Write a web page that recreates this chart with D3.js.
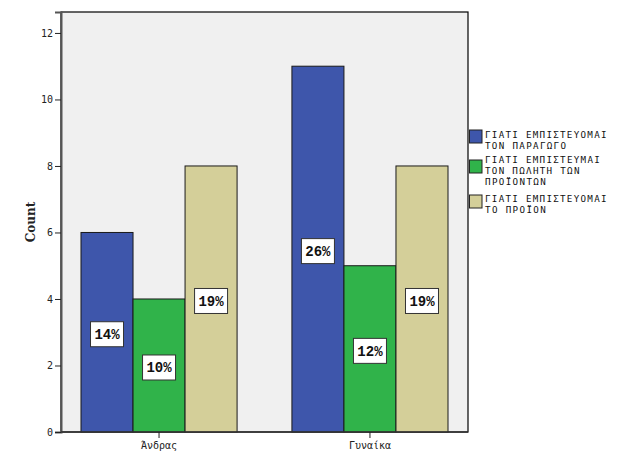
<!DOCTYPE html>
<html><head><meta charset="utf-8">
<script src="https://cdn.jsdelivr.net/npm/d3@7"></script>
<style>body{margin:0;background:#fff}svg{display:block}</style>
</head><body>
<svg id="c" width="624" height="463"></svg>
<script>
const categories = ["Άνδρας", "Γυναίκα"];
const seriesNames = ["ΓΙΑΤΙ ΕΜΠΙΣΤΕΥΟΜΑΙ ΤΟΝ ΠΑΡΑΓΩΓΟ", "ΓΙΑΤΙ ΕΜΠΙΣΤΕΥΜΑΙ ΤΟΝ ΠΩΛΗΤΗ ΤΩΝ ΠΡΟΪΟΝΤΩΝ", "ΓΙΑΤΙ ΕΜΠΙΣΤΕΥΟΜΑΙ ΤΟ ΠΡΟΪΟΝ"];
const legendLines = [["ΓΙΑΤΙ ΕΜΠΙΣΤΕΥΟΜΑΙ", "ΤΟΝ ΠΑΡΑΓΩΓΟ"], ["ΓΙΑΤΙ ΕΜΠΙΣΤΕΥΜΑΙ", "ΤΟΝ ΠΩΛΗΤΗ ΤΩΝ", "ΠΡΟΪΟΝΤΩΝ"], ["ΓΙΑΤΙ ΕΜΠΙΣΤΕΥΟΜΑΙ", "ΤΟ ΠΡΟΪΟΝ"]];
const countsParagogos = [6, 11];
const countsPolitis = [4, 5];
const countsProion = [8, 8];
const pctParagogos = ["14%", "26%"];
const pctPolitis = ["10%", "12%"];
const pctProion = ["19%", "19%"];
const yTicks = [0, 2, 4, 6, 8, 10, 12];
const colors = ["#3e56ab", "#30b34a", "#d4cf99"];

const series = [countsParagogos, countsPolitis, countsProion];
const pcts = [pctParagogos, pctPolitis, pctProion];

const svg = d3.select("#c");
const L = 61, R = 468, T = 12, B = 432;

const y = d3.scaleLinear().domain([0, 12.63]).range([B, T]);
const x0 = d3.scaleBand().domain(categories).range([L, R]).paddingInner(0.26).paddingOuter(0.0948);
const x1 = d3.scaleBand().domain(d3.range(3)).range([0, x0.bandwidth()]);

svg.append("rect").attr("x", L).attr("y", T).attr("width", R - L).attr("height", B - T)
  .attr("fill", "#f0f0f0").attr("stroke", "#000").attr("stroke-width", 1.2);

const g = svg.append("g");
categories.forEach((c, ci) => {
  series.forEach((s, si) => {
    g.append("rect")
      .attr("x", x0(c) + x1(si)).attr("y", y(s[ci]))
      .attr("width", x1.bandwidth()).attr("height", y(0) - y(s[ci]))
      .attr("fill", colors[si]).attr("stroke", "#1a1a1a").attr("stroke-width", 1);
  });
});

// labels
categories.forEach((c, ci) => {
  series.forEach((s, si) => {
    const cx = x0(c) + x1(si) + x1.bandwidth() / 2;
    const cy = y(s[ci] / 2) + 2;
    g.append("rect").attr("x", cx - 16.5).attr("y", cy - 12.5).attr("width", 33).attr("height", 25)
      .attr("fill", "#fff").attr("stroke", "#333").attr("stroke-width", 1);
    g.append("text").attr("x", cx).attr("y", cy + 5).attr("text-anchor", "middle")
      .attr("font-family", "Liberation Mono, DejaVu Sans Mono, monospace").attr("font-weight", "bold")
      .attr("font-size", 14).attr("fill", "#111").text(pcts[si][ci]);
  });
});

// y axis
const yAxis = d3.axisLeft(y).tickValues(yTicks).tickSize(6).tickPadding(2).tickFormat(d3.format("d"));
const ya = svg.append("g").attr("transform", `translate(${L},0)`).call(yAxis);
ya.select(".domain").attr("stroke", "#555").attr("stroke-width", 2);
ya.selectAll(".tick line").attr("stroke", "#222");
ya.selectAll("text").attr("font-family", "DejaVu Sans Mono, monospace").attr("font-size", 10).attr("fill", "#222");

// x axis
const xAxis = d3.axisBottom(x0).tickSize(6).tickPadding(4);
const xa = svg.append("g").attr("transform", `translate(0,${B})`).call(xAxis);
xa.select(".domain").attr("stroke", "#333").attr("stroke-width", 1.5).attr("d", `M${L},0H${R}`);
xa.selectAll(".tick line").attr("stroke", "#222");
xa.selectAll("text").attr("font-family", "DejaVu Sans Mono, monospace").attr("font-size", 10).attr("fill", "#222");

svg.append("text").attr("transform", "translate(35,222) rotate(-90)").attr("text-anchor", "middle")
  .attr("font-family", "DejaVu Serif, serif").attr("font-weight", "bold").attr("font-size", 12)
  .attr("fill", "#222").text("Count");

// legend
const swatchY = [130, 160, 195];
const firstBase = [137.5, 163, 202];
const lg = svg.append("g");
legendLines.forEach((lines, i) => {
  lg.append("rect").attr("x", 469.5).attr("y", swatchY[i]).attr("width", 12.5).attr("height", 13)
    .attr("fill", colors[i]).attr("stroke", "#222").attr("stroke-width", 1);
  lines.forEach((t, j) => {
    lg.append("text").attr("x", 485).attr("y", firstBase[i] + j * 11)
      .attr("font-family", "DejaVu Sans Mono, monospace").attr("font-size", 9.2)
      .attr("textLength", t.length * 6.75).attr("lengthAdjust", "spacing")
      .attr("fill", "#111").text(t);
  });
});
</script>
</body></html>
